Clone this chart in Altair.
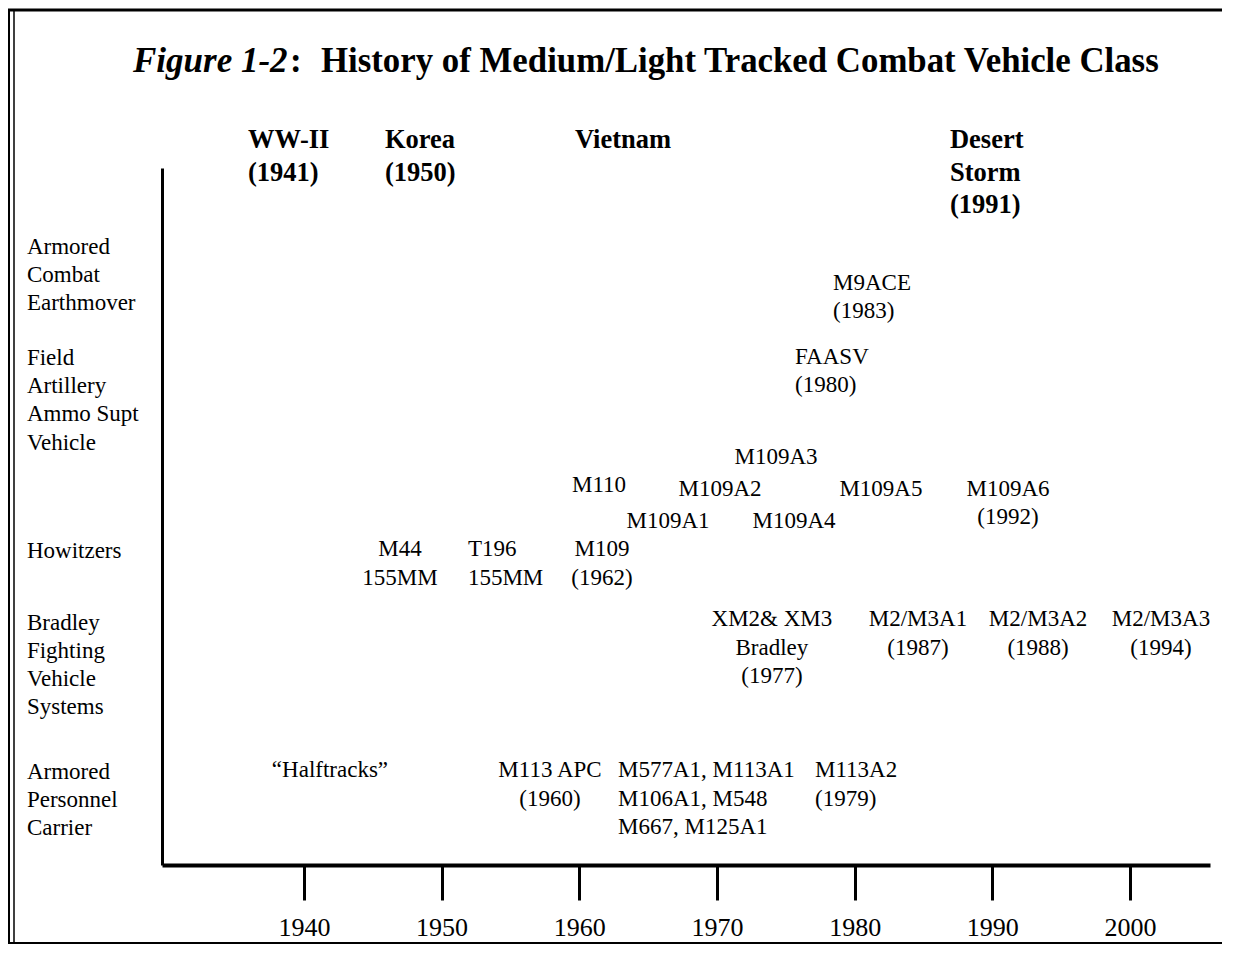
import altair as alt
import pandas as pd

# ---------------- data ----------------
tick_years = [1940, 1950, 1960, 1970, 1980, 1990, 2000]

era_text = ["WW-II\n(1941)", "Korea\n(1950)", "Vietnam", "Desert\nStorm\n(1991)"]
era_year = [1935.93, 1945.88, 1959.68, 1986.92]
era_level = [25.29, 25.29, 25.29, 25.29]

cat_text = [
    "Armored\nCombat\nEarthmover",
    "Field\nArtillery\nAmmo Supt\nVehicle",
    "Howitzers",
    "Bradley\nFighting\nVehicle\nSystems",
    "Armored\nPersonnel\nCarrier",
]
cat_year = [1919.88, 1919.88, 1919.88, 1919.88, 1919.88]
cat_level = [21.58, 17.66, 10.82, 8.31, 3.05]

veh_text = [
    "M9ACE\n(1983)", "FAASV\n(1980)", "M109A3", "M110", "M109A2", "M109A5",
    "M109A6\n(1992)", "M109A1", "M109A4", "M44\n155MM", "T196\n155MM",
    "M109\n(1962)", "XM2& XM3\nBradley\n(1977)", "M2/M3A1\n(1987)",
    "M2/M3A2\n(1988)", "M2/M3A3\n(1994)", "\u201cHalftracks\u201d",
    "M113 APC\n(1960)", "M577A1, M113A1\nM106A1, M548\nM667, M125A1",
    "M113A2\n(1979)",
]
veh_year = [
    1978.43, 1975.67, 1974.29, 1961.43, 1970.22, 1981.91,
    1991.14, 1966.44, 1975.60, 1946.97, 1951.91,
    1961.65, 1973.99, 1984.60,
    1993.32, 2002.25, 1941.89,
    1957.87, 1962.81,
    1977.12,
]
veh_level = [
    20.31, 17.70, 14.17, 13.15, 13.04, 13.04,
    13.04, 11.91, 11.91, 10.89, 10.89,
    10.89, 8.42, 8.42,
    8.42, 8.42, 3.09,
    3.09, 3.09,
    3.09,
]
# which vehicle blocks are set flush-left (others are centred)
left_blocks = ["M9ACE\n(1983)", "FAASV\n(1980)", "T196\n155MM",
               "M577A1, M113A1\nM106A1, M548\nM667, M125A1", "M113A2\n(1979)"]

# ---------------- tables ----------------
eras = pd.DataFrame({"text": era_text, "year": era_year, "level": era_level})
cats = pd.DataFrame({"text": cat_text, "year": cat_year, "level": cat_level})
veh = pd.DataFrame({"text": veh_text, "year": veh_year, "level": veh_level})
veh["left"] = veh["text"].isin(left_blocks)
veh_c = veh[~veh["left"]]
veh_l = veh[veh["left"]]
ticks = pd.DataFrame({"year": tick_years, "level": [0] * len(tick_years)})

FONT = "Liberation Serif"
W, H = 1048, 697
PAD = {"left": 154, "top": 160, "right": 16, "bottom": 80}
RIGHT_EDGE = W + PAD["right"] - 4
BOTTOM_EDGE = H + PAD["bottom"] - 2

xscale = alt.Scale(domain=[1929.69, 2005.81], nice=False, zero=False)
yscale = alt.Scale(domain=[0, 24.6], nice=False, zero=False)

X = alt.X("year:Q", scale=xscale,
          axis=alt.Axis(values=tick_years, format="d", title=None, grid=False,
                        tickSize=35, tickWidth=3, tickColor="black",
                        domainWidth=4, domainColor="black",
                        labelFont=FONT, labelFontSize=26, labelColor="black",
                        labelPadding=14, labelFlush=False, labelOverlap=False))
Y = alt.Y("level:Q", scale=yscale,
          axis=alt.Axis(labels=False, ticks=False, grid=False, title=None,
                        domainWidth=3, domainColor="black"))

base_axes = alt.Chart(ticks).mark_point(opacity=0).encode(x=X, y=Y)

era_layer = alt.Chart(eras).mark_text(
    font=FONT, fontSize=26.5, fontWeight="bold", align="left",
    baseline="alphabetic", lineBreak="\n", lineHeight=32.5, color="black"
).encode(x=alt.X("year:Q", scale=xscale), y=alt.Y("level:Q", scale=yscale), text="text:N")

cat_layer = alt.Chart(cats).mark_text(
    font=FONT, fontSize=23, align="left", baseline="alphabetic",
    lineBreak="\n", lineHeight=28.3, color="black"
).encode(x=alt.X("year:Q", scale=xscale), y=alt.Y("level:Q", scale=yscale), text="text:N")

veh_c_layer = alt.Chart(veh_c).mark_text(
    font=FONT, fontSize=23, align="center", baseline="alphabetic",
    lineBreak="\n", lineHeight=28.5, color="black"
).encode(x=alt.X("year:Q", scale=xscale), y=alt.Y("level:Q", scale=yscale), text="text:N")

veh_l_layer = alt.Chart(veh_l).mark_text(
    font=FONT, fontSize=23, align="left", baseline="alphabetic",
    lineBreak="\n", lineHeight=28.5, color="black"
).encode(x=alt.X("year:Q", scale=xscale), y=alt.Y("level:Q", scale=yscale), text="text:N")

# ---------------- title (mixed italic / bold) ----------------
title_fig = alt.Chart(ticks.head(1)).mark_text(
    font=FONT, fontSize=35, fontWeight="bold", fontStyle="italic",
    align="left", baseline="alphabetic", color="black", text="Figure 1-2"
).encode(x=alt.value(-29), y=alt.value(-96))
title_colon = alt.Chart(ticks.head(1)).mark_text(
    font=FONT, fontSize=35, fontWeight="bold",
    align="left", baseline="alphabetic", color="black", text=":"
).encode(x=alt.value(128), y=alt.value(-96))
title_rest = alt.Chart(ticks.head(1)).mark_text(
    font=FONT, fontSize=34.8, fontWeight="bold",
    align="left", baseline="alphabetic", color="black",
    text="History of Medium/Light Tracked Combat Vehicle Class"
).encode(x=alt.value(159), y=alt.value(-96))

# ---------------- page frame ----------------
frame_top = alt.Chart(ticks.head(1)).mark_rule(color="black", strokeWidth=3).encode(
    x=alt.value(-154), x2=alt.value(RIGHT_EDGE), y=alt.value(-158))
frame_bot = alt.Chart(ticks.head(1)).mark_rule(color="black", strokeWidth=2).encode(
    x=alt.value(-154), x2=alt.value(RIGHT_EDGE), y=alt.value(BOTTOM_EDGE))
frame_l1 = alt.Chart(ticks.head(1)).mark_rule(color="black", strokeWidth=2).encode(
    x=alt.value(-153), y=alt.value(-158), y2=alt.value(BOTTOM_EDGE))
frame_l2 = alt.Chart(ticks.head(1)).mark_rule(color="black", strokeWidth=1.5).encode(
    x=alt.value(-148), y=alt.value(-158), y2=alt.value(BOTTOM_EDGE))

chart = alt.layer(
    base_axes, era_layer, cat_layer, veh_c_layer, veh_l_layer,
    title_fig, title_colon, title_rest,
    frame_top, frame_bot, frame_l1, frame_l2,
).properties(
    width=W, height=H,
    autosize=alt.AutoSizeParams(type="none"),
    padding=PAD,
    background="white",
).configure_view(stroke=None)

chart.save("out.html", embed_options={"renderer": "svg", "actions": False})
